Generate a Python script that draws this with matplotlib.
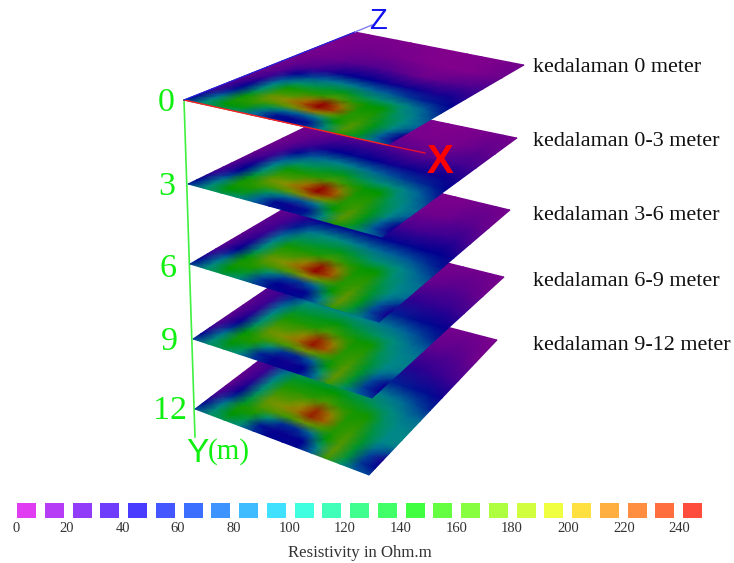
"""Stacked resistivity slices at five depths, drawn in pixel-like page coordinates."""
import numpy as np
import matplotlib

matplotlib.use("Agg")
import matplotlib.pyplot as plt
from matplotlib.colors import LinearSegmentedColormap

plt.rcParams["font.family"] = ["Liberation Serif", "DejaVu Serif"]

# grid positions across each slice (0-1 along X, 0-1 along Z)
grid_x = [i / 12 for i in range(13)]
grid_z = [0, .05, .11, .16, .21, .26, .33, .40, .48, .57, .70, .84, 1]

depth_0 = [
    [60, 115, 125, 118, 85, 58, 52, 58, 90, 150, 130, 95, 70],
    [50, 110, 140, 135, 85, 52, 46, 55, 115, 170, 135, 80, 45],
    [42, 90, 150, 155, 125, 88, 80, 95, 140, 172, 135, 85, 46],
    [35, 70, 145, 168, 170, 180, 205, 178, 152, 165, 135, 100, 66],
    [30, 55, 130, 178, 192, 215, 242, 222, 155, 155, 130, 105, 80],
    [28, 50, 118, 165, 172, 205, 238, 205, 150, 150, 125, 100, 82],
    [26, 42, 100, 145, 152, 155, 172, 155, 142, 138, 115, 92, 72],
    [24, 36, 78, 118, 125, 132, 135, 125, 120, 112, 95, 78, 58],
    [22, 30, 50, 72, 88, 95, 90, 82, 78, 68, 60, 55, 48],
    [20, 26, 32, 40, 46, 48, 48, 46, 45, 45, 42, 44, 40],
    [18, 20, 22, 26, 28, 30, 28, 25, 22, 24, 28, 30, 32],
    [12, 14, 18, 20, 18, 16, 12, 10, 8, 8, 10, 18, 22],
    [10, 12, 12, 12, 10, 10, 8, 6, 8, 10, 12, 16, 18],
]
depth_1 = [
    [62, 112, 125, 115, 82, 56, 50, 56, 90, 152, 128, 92, 68],
    [50, 108, 140, 132, 82, 50, 44, 54, 115, 172, 135, 78, 45],
    [42, 90, 150, 152, 122, 85, 76, 92, 140, 174, 135, 84, 46],
    [35, 68, 145, 166, 168, 178, 200, 175, 152, 166, 135, 98, 66],
    [30, 52, 130, 176, 190, 212, 240, 220, 155, 158, 130, 102, 80],
    [28, 48, 118, 165, 170, 202, 236, 202, 150, 152, 125, 100, 84],
    [26, 42, 100, 145, 150, 155, 170, 155, 142, 140, 115, 92, 74],
    [24, 36, 80, 120, 125, 132, 135, 125, 118, 112, 96, 80, 60],
    [22, 30, 52, 78, 92, 98, 92, 85, 78, 70, 64, 58, 48],
    [20, 26, 36, 44, 48, 50, 48, 46, 45, 46, 44, 46, 42],
    [18, 22, 24, 28, 30, 32, 30, 28, 26, 28, 32, 34, 32],
    [14, 16, 18, 20, 20, 18, 16, 14, 14, 16, 22, 26, 24],
    [12, 12, 12, 12, 12, 10, 10, 8, 10, 12, 16, 20, 16],
]
depth_2 = [
    [65, 112, 128, 112, 72, 52, 48, 52, 85, 160, 125, 85, 64],
    [50, 105, 140, 128, 70, 48, 44, 50, 112, 176, 132, 72, 44],
    [40, 88, 150, 150, 112, 72, 66, 85, 140, 176, 135, 78, 44],
    [32, 65, 142, 166, 168, 172, 190, 170, 152, 168, 132, 92, 66],
    [28, 48, 128, 176, 188, 210, 240, 218, 155, 160, 130, 100, 84],
    [26, 44, 115, 165, 170, 198, 235, 200, 150, 155, 125, 100, 90],
    [26, 40, 100, 148, 150, 152, 168, 155, 142, 142, 118, 95, 84],
    [26, 36, 84, 125, 128, 132, 135, 128, 120, 116, 100, 84, 70],
    [26, 34, 58, 90, 102, 105, 96, 90, 84, 80, 74, 64, 54],
    [24, 30, 42, 50, 52, 54, 52, 50, 50, 50, 48, 48, 44],
    [20, 24, 28, 32, 34, 36, 34, 32, 32, 34, 36, 38, 32],
    [16, 18, 20, 22, 22, 20, 20, 20, 20, 22, 26, 26, 22],
    [14, 14, 14, 14, 14, 12, 12, 12, 12, 14, 18, 20, 16],
]
depth_3 = [
    [68, 115, 125, 105, 68, 50, 46, 50, 82, 165, 122, 80, 66],
    [50, 108, 138, 125, 60, 46, 44, 48, 108, 176, 130, 68, 46],
    [38, 88, 148, 150, 108, 66, 60, 82, 138, 174, 132, 74, 46],
    [30, 62, 138, 166, 168, 168, 182, 168, 152, 168, 132, 90, 68],
    [26, 46, 125, 176, 186, 205, 235, 215, 155, 162, 130, 100, 90],
    [25, 42, 115, 168, 170, 195, 230, 198, 152, 156, 125, 102, 96],
    [25, 38, 104, 150, 152, 152, 168, 155, 145, 145, 120, 98, 92],
    [26, 36, 88, 130, 132, 135, 138, 130, 125, 120, 104, 88, 80],
    [28, 36, 64, 100, 110, 112, 104, 98, 92, 88, 80, 70, 58],
    [28, 32, 46, 58, 60, 62, 60, 58, 58, 56, 52, 50, 46],
    [24, 28, 30, 36, 38, 38, 36, 36, 38, 38, 38, 38, 34],
    [18, 20, 22, 24, 24, 24, 24, 24, 24, 26, 28, 26, 22],
    [16, 16, 16, 16, 16, 14, 14, 14, 14, 16, 18, 18, 14],
]
depth_4 = [
    [70, 118, 125, 105, 65, 48, 50, 50, 80, 165, 120, 78, 70],
    [52, 110, 140, 125, 55, 46, 46, 48, 105, 174, 128, 66, 50],
    [38, 90, 148, 150, 110, 65, 62, 85, 138, 172, 130, 72, 42],
    [30, 62, 132, 168, 170, 166, 178, 168, 152, 168, 132, 88, 70],
    [25, 46, 125, 178, 186, 202, 232, 212, 155, 162, 130, 100, 95],
    [24, 42, 118, 170, 172, 192, 228, 196, 152, 156, 126, 102, 100],
    [24, 38, 106, 152, 155, 155, 168, 155, 148, 146, 122, 100, 95],
    [26, 36, 92, 132, 135, 138, 140, 132, 128, 122, 106, 90, 85],
    [28, 38, 68, 104, 112, 115, 108, 102, 96, 92, 84, 72, 60],
    [30, 34, 48, 60, 64, 66, 62, 60, 60, 58, 54, 52, 45],
    [26, 30, 32, 38, 40, 40, 38, 38, 40, 40, 38, 36, 32],
    [20, 22, 24, 26, 26, 26, 26, 26, 26, 26, 28, 26, 20],
    [18, 18, 18, 18, 18, 16, 16, 16, 16, 16, 18, 16, 12],
]
slices = [depth_0, depth_1, depth_2, depth_3, depth_4]

slice_labels = ["kedalaman 0 meter", "kedalaman 0-3 meter", "kedalaman 3-6 meter",
                "kedalaman 6-9 meter", "kedalaman 9-12 meter"]
depth_ticks = ["0", "3", "6", "9", "12"]

legend_values = [5 + 10 * i for i in range(25)]
legend_ticks = [0, 20, 40, 60, 80, 100, 120, 140, 160, 180, 200, 220, 240]

# page layout: corners of each slice (left, bottom, top, right)
CORNERS = [
    ((184, 100), (387, 145), (355, 32), (524, 65)),
    ((188, 184), (382, 237), (353, 104), (517, 138)),
    ((190, 264), (379, 322), (348, 171), (510, 210)),
    ((193, 339), (372, 398), (343, 237), (504, 277)),
    ((195, 409), (369, 475), (340, 299), (497, 340)),
]
DEPTH_TICK_X = [166, 167, 168, 169, 170]
DEPTH_TICK_Y = [103, 187, 269, 342, 411]
LABEL_Y = [68, 142, 216, 282, 346]
TICK_X = [16, 67, 123, 178, 234, 290, 345, 401, 457, 512, 568, 624, 679]

# the lit surface is much darker than the legend swatches
surface_cmap = LinearSegmentedColormap.from_list("surface", [
    (0 / 250, "#8c008c"), (20 / 250, "#70008c"), (35 / 250, "#3c0092"),
    (48 / 250, "#00008f"), (80 / 250, "#00609a"), (100 / 250, "#008888"),
    (120 / 250, "#00906a"), (140 / 250, "#009600"), (165 / 250, "#3f9800"),
    (190 / 250, "#8f9000"), (215 / 250, "#a45a00"), (240 / 250, "#900000"),
    (1, "#900000"),
])
legend_cmap = LinearSegmentedColormap.from_list("legend", [
    (0, "#f53cf0"), (.08, "#a03cf8"), (.18, "#4a3cff"), (.26, "#3c70ff"),
    (.38, "#40e0ff"), (.42, "#40ffe0"), (.58, "#40ff40"), (.74, "#d0ff40"),
    (.80, "#ffff40"), (.84, "#ffc040"), (.92, "#ff8040"), (1, "#ff3c3c"),
])

fig = plt.figure(figsize=(7.34, 5.63), dpi=100)
ax = fig.add_axes([0, 0, 1, 1])
ax.set_xlim(0, 734)
ax.set_ylim(563, 0)
ax.axis("off")

gx, gz = np.meshgrid(grid_x, grid_z)


def page_coords(corners):
    """Bilinear map from slice grid to the page."""
    left, bottom, top, right = (np.array(c, dtype=float) for c in corners)
    near = left[None, None] * (1 - gx)[..., None] + bottom[None, None] * gx[..., None]
    far = top[None, None] * (1 - gx)[..., None] + right[None, None] * gx[..., None]
    pts = near * (1 - gz)[..., None] + far * gz[..., None]
    return pts[..., 0], pts[..., 1]


# axis lines sit under the slices, deepest slice first so upper ones cover it
ax.plot([184, 195], [100, 437], color="#40f040", lw=1.2, zorder=1)
for i in reversed(range(5)):
    px, py = page_coords(CORNERS[i])
    ax.pcolormesh(px, py, np.array(slices[i], dtype=float), shading="gouraud",
                  cmap=surface_cmap, vmin=0, vmax=250, zorder=2 + (4 - i))

ax.plot([184, 387], [100, 145], color="#ff2020", lw=1.0, zorder=10)
ax.plot([387, 425], [145, 153], color="#e01030", lw=1.0, zorder=10)
ax.plot([184, 355], [100, 32], color="#2020e0", lw=0.8, zorder=10)
ax.plot([355, 372], [32, 25], color="#8080f0", lw=1.0, zorder=10)

ax.text(378, 21, "Z", color="#1010f0", fontsize=21, ha="center", va="center",
        family=["Liberation Sans"], zorder=11)
ax.text(440, 162, "X", color="#ff0000", fontsize=29, ha="center", va="center",
        family=["Liberation Sans"], fontweight="bold", zorder=11)
ax.text(197, 453, "Y", color="#10f010", fontsize=24, ha="center", va="center",
        family=["Liberation Sans"], zorder=11)
ax.text(229, 452, "(m)", color="#10f010", fontsize=21, ha="center", va="center", zorder=11)

for tick, x, y in zip(depth_ticks, DEPTH_TICK_X, DEPTH_TICK_Y):
    ax.text(x, y, tick, color="#10f010", fontsize=24.5, ha="center", va="center")

for label, y in zip(slice_labels, LABEL_Y):
    ax.text(533, y, label, color="#111111", fontsize=15.9, ha="left", va="center")

# legend swatches along the foot of the page
sw_x = [26.5 + (v - 5) * 2.775 for v in legend_values]
ax.bar(sw_x, 15, width=19, bottom=503, color=legend_cmap(np.array(legend_values) / 250),
       edgecolor="none")
for tick, x in zip(legend_ticks, TICK_X):
    ax.text(x, 528, str(tick), color="#333333", fontsize=10.5, ha="center", va="center")
ax.text(360, 553, "Resistivity in Ohm.m", color="#333333", fontsize=12.1, ha="center", va="center")

fig.savefig("out.png", dpi=100)
